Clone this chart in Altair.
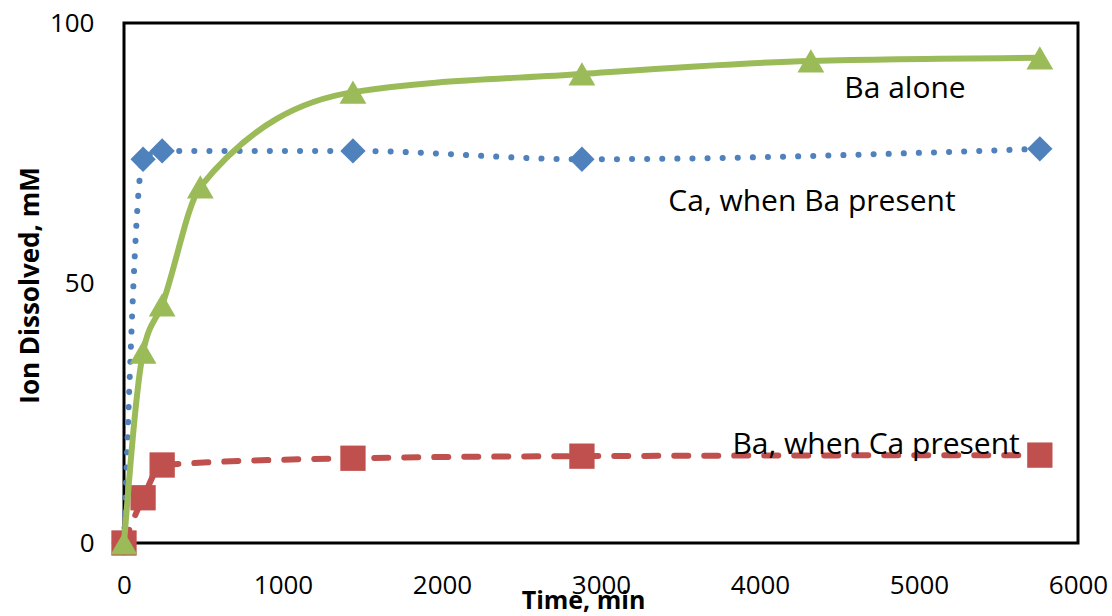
import altair as alt
import pandas as pd

# Data
time_ca = [0, 120, 240, 1440, 2880, 5760]
ca_with_ba = [0, 73.8, 75.4, 75.4, 73.8, 75.8]

time_ba_ca = [0, 120, 240, 1440, 2880, 5760]
ba_with_ca = [0, 8.7, 15.0, 16.3, 16.7, 16.9]

time_ba = [0, 120, 240, 480, 1440, 2880, 4320, 5760]
ba_alone = [0, 36.7, 45.8, 68.5, 86.7, 90.2, 92.7, 93.3]

labels = ["Ba alone", "Ca, when Ba present", "Ba, when Ca present"]
label_x = [4912, 4327, 4730]
label_y = [87.3, 65.6, 18.8]

x_ticks = [0, 1000, 2000, 3000, 4000, 5000, 6000]
y_ticks = [0, 50, 100]

FONT = "Open Sans"

df_ca = pd.DataFrame({"t": time_ca, "v": ca_with_ba})
df_bc = pd.DataFrame({"t": time_ba_ca, "v": ba_with_ca})
df_ba = pd.DataFrame({"t": time_ba, "v": ba_alone})
df_lab = pd.DataFrame({"label": labels, "t": label_x, "v": label_y})

xs = alt.Scale(domain=[0, 6000], nice=False)
ys = alt.Scale(domain=[0, 100], nice=False)

x_enc = alt.X("t:Q", scale=xs, axis=alt.Axis(
    title="Time, min", values=x_ticks, format="d", grid=False, ticks=False, domain=False,
    labelFont=FONT, labelFontSize=26, labelColor="#000", labelPadding=29,
    titleFont=FONT, titleFontSize=25, titleFontWeight="bold", titleColor="#000",
    titleX=459, titleY=57, titleBaseline="middle", titleAlign="center",
    labelFlush=False))
y_enc = alt.Y("v:Q", scale=ys, axis=alt.Axis(
    title="Ion Dissolved, mM", values=y_ticks, format="d", grid=False, ticks=False, domain=False,
    labelFont=FONT, labelFontSize=26, labelColor="#000", labelPadding=30,
    titleFont=FONT, titleFontSize=26, titleFontWeight="bold", titleColor="#000",
    titleX=-94, titleY=262, titleBaseline="middle", titleAlign="center", titleAngle=-90,
    labelFlush=False))

BLUE = "#4F81BD"
RED = "#C0504D"
GREEN = "#9BBB59"

ca_line = alt.Chart(df_ca).mark_line(
    color=BLUE, strokeWidth=6, strokeDash=[0.1, 15], strokeCap="round",
    interpolate="monotone").encode(x=x_enc, y=y_enc)
ca_pts = alt.Chart(df_ca).mark_point(
    shape="diamond", filled=True, color=BLUE, size=640, opacity=1, strokeWidth=0
).encode(x="t:Q", y="v:Q")

bc_line = alt.Chart(df_bc).mark_line(
    color=RED, strokeWidth=6, strokeDash=[14, 16], strokeCap="round",
    interpolate="monotone").encode(x="t:Q", y="v:Q")
bc_pts = alt.Chart(df_bc).mark_point(
    shape="square", filled=True, color=RED, size=640, opacity=1, strokeWidth=0
).encode(x="t:Q", y="v:Q")

ba_line = alt.Chart(df_ba).mark_line(
    color=GREEN, strokeWidth=6, interpolate="monotone").encode(x="t:Q", y="v:Q")
ba_pts = alt.Chart(df_ba).mark_point(
    shape="triangle-up", filled=True, color=GREEN, size=720, opacity=1, strokeWidth=0
).encode(x="t:Q", y="v:Q")

texts = alt.Chart(df_lab).mark_text(
    font=FONT, fontSize=30, color="#000", align="center", baseline="middle"
).encode(x="t:Q", y="v:Q", text="label:N")

chart = alt.layer(
    ca_line, ca_pts, bc_line, bc_pts, ba_line, ba_pts, texts
).properties(
    width=954, height=520,
    autosize=alt.AutoSizeParams(type="none"),
    padding={"left": 124, "top": 23, "right": 34, "bottom": 73},
    background="white",
).configure_view(stroke="#000", strokeWidth=3)

chart.save("out.html", embed_options={"renderer": "svg", "actions": False})
